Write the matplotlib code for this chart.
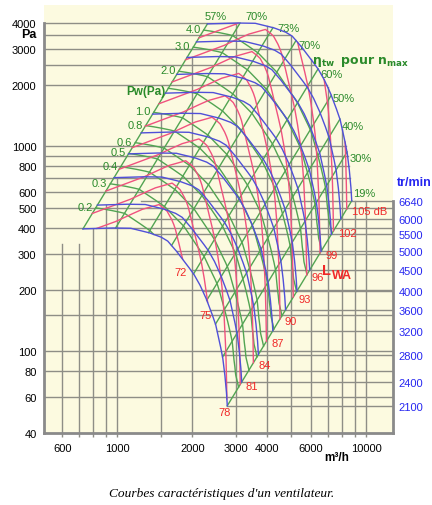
import numpy as np
import matplotlib.pyplot as plt
from matplotlib.ticker import NullLocator

plt.rcParams['font.family'] = ['Liberation Sans', 'DejaVu Sans']

# outer curve, 6640 tr/min (m3/h, Pa)
base_q = [2300, 2970, 3570, 4220, 4720, 5030, 5420, 5940, 6400, 6760,
          7150, 7490, 7840, 8140, 8370, 8520, 8660, 8740]
base_p = [3960, 4000, 3990, 3800, 3620, 3460, 3120, 2700, 2390, 2130,
          1840, 1590, 1360, 1110, 940, 795, 650, 543]

speeds = [6640, 6000, 5500, 5000, 4500, 4000, 3600, 3200, 2800, 2400, 2100]

# efficiency lines, where they meet the outer curve
eff_q = [2300, 3110, 4220, 5220, 6400, 7230, 7840, 8370, 8740]
eff_pct = [57, 70, 73, 70, 60, 50, 40, 30, 19]

# shaft power lines (kW), labelled on the stall line
pw_kw = [0.2, 0.3, 0.4, 0.5, 0.6, 0.8, 1.0, 1.5, 2.0, 3.0, 4.0]
pw_text = ['0.2', '0.3', '0.4', '0.5', '0.6', '0.8', '1.0', 'Pw(Pa)', '2.0', '3.0', '4.0']

# sound power LWA lines: level, pressure where they meet the 19% line
lwa_db = [72, 75, 78, 81, 84, 87, 90, 93, 96, 99, 102, 105]
lwa_end_p = [33, 42, 54, 69, 88, 112, 144, 184, 236, 302, 387, 495]
# how far the LWA lines lean above the speed lines along the curve
lwa_tilt_q = [2300, 3000, 3600, 4000, 4400, 4860, 5540, 6400, 7370, 8740]
lwa_tilt = [1.24, 1.33, 1.43, 1.49, 1.46, 1.40, 1.31, 1.22, 1.13, 1.00]

p_ticks = [40, 60, 80, 100, 200, 300, 400, 500, 600, 800, 1000, 2000, 3000, 4000]
p_grid = [60, 80, 100, 150, 200, 300, 400, 500, 600, 700, 800, 900, 1000,
          2000, 2500, 3000, 3500, 4000]
q_ticks = [600, 1000, 2000, 3000, 4000, 6000, 10000]
q_grid = [600, 700, 800, 900, 1000, 1500, 2000, 3000, 4000, 5000, 6000,
          7000, 8000, 9000, 10000]

BG = '#fcfae0'
GRID = '#8e8e86'
BLUE = '#5050d8'
PINK = '#f0527e'
GREEN = '#52a452'
GTXT = '#2a8a2a'
RED = '#f02828'

fig = plt.figure(figsize=(4.32, 5.06), dpi=100)
ax = fig.add_axes([43.5 / 432, 72 / 506, 349.5 / 432, 428 / 506])
ax.set_xscale('log')
ax.set_yscale('log')
ax.set_xlim(505, 12800)
ax.set_ylim(40, 4896)
ax.set_facecolor(BG)

# curve along its own parameter
n = len(base_q)
t = np.linspace(0, n - 1, 1500)
lq0 = np.interp(t, np.arange(n), np.log10(base_q))
lp0 = np.interp(t, np.arange(n), np.log10(base_p))
q0 = 10 ** lq0
p0 = 10 ** lp0
r_min = speeds[-1] / speeds[0]
k_top = int(np.argmax(p0))


def runs(r):
    ok = np.flatnonzero((r >= r_min - 1e-9) & (r <= 1 + 1e-9))
    if ok.size == 0:
        return []
    return np.split(ok, np.flatnonzero(np.diff(ok) > 1) + 1)


def q_on_curve(p, r):
    # flow on the falling side of speed curve r at pressure p
    lp = lp0[k_top:][::-1] + 2 * np.log10(r)
    lq = lq0[k_top:][::-1] + np.log10(r)
    return 10 ** np.interp(np.log10(p), lp, lq)


def p_grid_top(q):
    if q < q0[0] * r_min:
        return 335
    if q > q0[-1]:
        return p0[-1]
    for sp in speeds:
        r = sp / speeds[0]
        if q0[0] * r <= q:
            return r * r * 10 ** np.interp(np.log10(q / r), lq0, lp0)


pix = 0.72
gkw = dict(color=GRID, lw=1.0, zorder=1)

# grid
for q in q_grid:
    ax.plot([q, q], [40, p_grid_top(q)], **gkw)
for p in p_grid:
    right = 12800 if p <= p0[-1] else q_on_curve(p, 1.0)
    ax.plot([505, right], [p, p], **gkw)
speed_p = [p0[-1] * (sp / speeds[0]) ** 2 for sp in speeds]
p_low_top = p0.max() * r_min ** 2
for p in speed_p:
    left = q_on_curve(min(p, 0.97 * p_low_top), r_min)
    ax.plot([left, 12800], [p, p], **gkw)

# efficiency lines
for q, v, off in zip(eff_q, eff_pct,
                     [(-3, 8), (5, 7), (4, 0), (2, -5), (2, -5),
                      (1, -3), (2, -7), (2, -6), (1, 8)]):
    pp = 10 ** np.interp(np.log10(q), lq0, lp0)
    ax.plot([q * r_min, q], [pp * r_min ** 2, pp], color=GREEN, lw=1.0, zorder=2)
    ax.annotate(f'{v}%', (q, pp), xytext=(off[0] * pix, off[1] * pix),
                textcoords='offset points', ha='left', va='center',
                color=GTXT, fontsize=8)

# power lines
eta = np.interp(lq0, np.log10(eff_q), eff_pct) / 100
pw0 = q0 / 3600 * p0 / eta / 1000
for P, lab in zip(pw_kw, pw_text):
    r = (P / pw0) ** (1 / 3)
    for k in runs(r):
        ax.plot(q0[k] * r[k], p0[k] * r[k] ** 2, color=GREEN, lw=1.0, zorder=2)
    rs = r[0]
    bold = lab.startswith('Pw')
    ax.annotate(lab, (q0[0] * rs, p0[0] * rs ** 2), xytext=(-3 * pix, (-3 if bold else 1) * pix),
                textcoords='offset points', ha='right', va='center',
                color=GTXT, fontsize=8.5 if bold else 8,
                fontweight='bold' if bold else 'normal')

# sound power lines
tilt = np.interp(lq0, np.log10(lwa_tilt_q), lwa_tilt)
for db, pe in zip(lwa_db, lwa_end_p):
    r = np.sqrt(pe / p0[-1]) * tilt
    segs = runs(r)
    for k in segs:
        ax.plot(q0[k] * r[k], p0[k] * r[k] ** 2, color=PINK, lw=1.0, zorder=3)
    last = segs[-1][-1]
    lab = f'{db} dB' if db == lwa_db[-1] else str(db)
    xy = (q0[last] * r[last], p0[last] * r[last] ** 2)
    if last == len(t) - 1:
        ax.annotate(lab, xy, xytext=(5 * pix, -2 * pix), textcoords='offset points',
                    ha='left', va='center', color=RED, fontsize=8)
    else:
        ax.annotate(lab, xy, xytext=(-2 * pix, -8 * pix), textcoords='offset points',
                    ha='center', va='top', color=RED, fontsize=8)

# speed curves
for sp in speeds:
    r = sp / speeds[0]
    ax.plot(q0 * r, p0 * r * r, color=BLUE, lw=1.0, zorder=4)

# axes
ax.spines['top'].set_visible(False)
for side in ['left', 'bottom', 'right']:
    ax.spines[side].set_color('#8a8a8a')
    ax.spines[side].set_linewidth(2)
    ax.spines[side].set_zorder(5)
ax.spines['left'].set_bounds(40, 4000)
ax.spines['right'].set_bounds(40, p0[-1])

ax.set_xticks(q_grid, [str(q) if q in q_ticks else '' for q in q_grid])
ax.xaxis.set_minor_locator(NullLocator())
ax.tick_params(axis='x', length=3, width=1, color=GRID, pad=4, labelsize=8)
ax.set_yticks(p_ticks, [str(p) for p in p_ticks])
ax.yaxis.set_minor_locator(NullLocator())
ax.tick_params(axis='y', length=0, pad=5, labelsize=8)

ax2 = ax.twinx()
ax2.set_yscale('log')
ax2.set_ylim(ax.get_ylim())
ax2.set_yticks(speed_p, [str(sp) for sp in speeds])
ax2.yaxis.set_minor_locator(NullLocator())
ax2.tick_params(axis='y', length=0, pad=4, labelsize=8, labelcolor='#2626f0')
for s in ax2.spines.values():
    s.set_visible(False)

ax.annotate('Pa', (0, 3540), xycoords=('axes fraction', 'data'), xytext=(-5, 0),
            textcoords='offset points', ha='right', va='center',
            fontsize=9, fontweight='bold')
ax.annotate('tr/min', (1, 670), xycoords=('axes fraction', 'data'), xytext=(3, 0),
            textcoords='offset points', ha='left', va='center',
            fontsize=9, fontweight='bold', color='#2626f0')
ax.annotate('m³/h', (7620, 40), xytext=(0, -17), textcoords='offset points',
            ha='center', va='center', fontsize=8.5, fontweight='bold')
ax.text(6055, 2611, r'$\mathbf{\eta_{tw}}$  $\mathbf{pour\ n_{max}}$',
        ha='left', va='center', color=GTXT, fontsize=9, zorder=6)
ax.text(6640, 250, 'L', ha='left', va='center', color=RED, fontsize=10.5,
        fontweight='bold', zorder=6)
ax.text(7250, 236, 'WA', ha='left', va='center', color=RED, fontsize=9,
        fontweight='bold', zorder=6)

fig.text(222 / 432, 1 - 494 / 506, "Courbes caractéristiques d'un ventilateur.",
         ha='center', va='center', fontsize=9.6, style='italic',
         family='Liberation Serif')

fig.savefig('out.png', dpi=100)
